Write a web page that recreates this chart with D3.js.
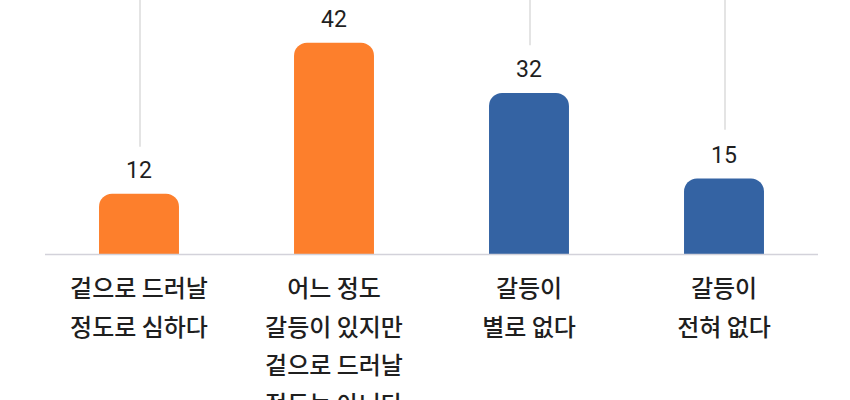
<!DOCTYPE html>
<html>
<head>
<meta charset="utf-8">
<script src="https://cdn.jsdelivr.net/npm/d3@7"></script>
<style>
  html, body { margin: 0; padding: 0; background: #fff; }
  svg { display: block; }
</style>
</head>
<body>
<div id="chart"></div>
<script>
// ---- data ----
const categories = [
  ["겉으로 드러날", "정도로 심하다"],
  ["어느 정도", "갈등이 있지만", "겉으로 드러날", "정도는 아니다"],
  ["갈등이", "별로 없다"],
  ["갈등이", "전혀 없다"]
];
const values = [12, 42, 32, 15];
const groups = ["conflict", "conflict", "none", "none"];
// leader lines coming from above the visible area (top end is cut off), in value units
const leaderEnds = [21.3, null, 41.5, 24.7];

// ---- layout ----
const W = 850, H = 400;
const baseY = 254;
const svg = d3.select("#chart").append("svg").attr("width", W).attr("height", H);

const x = d3.scaleBand()
  .domain(d3.range(categories.length))
  .range([41.5, 821.5])
  .paddingInner(0.59)
  .paddingOuter(0.295);

const y = d3.scaleLinear().domain([0, 50.5]).range([baseY, 0]);

const color = d3.scaleOrdinal().domain(["conflict", "none"]).range(["#fd7f2c", "#3463a3"]);

// leader lines
svg.append("g").selectAll("line")
  .data(leaderEnds.map((v, i) => ({v, i})).filter(d => d.v != null))
  .join("line")
  .attr("x1", d => x(d.i) + x.bandwidth() / 2 + 1)
  .attr("x2", d => x(d.i) + x.bandwidth() / 2 + 1)
  .attr("y1", 0)
  .attr("y2", d => y(d.v))
  .attr("stroke", "#d2d2d2")
  .attr("stroke-width", 1.2);

// bars with rounded top corners
function topRounded(x0, y0, w, h, r) {
  r = Math.min(r, w / 2, h);
  const p = d3.path();
  p.moveTo(x0, y0 + h);
  p.lineTo(x0, y0 + r);
  p.arcTo(x0, y0, x0 + r, y0, r);
  p.lineTo(x0 + w - r, y0);
  p.arcTo(x0 + w, y0, x0 + w, y0 + r, r);
  p.lineTo(x0 + w, y0 + h);
  p.closePath();
  return p.toString();
}

svg.append("g").selectAll("path")
  .data(values)
  .join("path")
  .attr("d", (v, i) => topRounded(x(i), y(v), x.bandwidth(), y(0) - y(v), 13))
  .attr("fill", (v, i) => color(groups[i]));

// baseline
svg.append("line")
  .attr("x1", 45).attr("x2", 818)
  .attr("y1", y(0) + 0.5).attr("y2", y(0) + 0.5)
  .attr("stroke", "#d3d2da")
  .attr("stroke-width", 1.5);

// value labels
svg.append("g").selectAll("text")
  .data(values)
  .join("text")
  .attr("x", (v, i) => x(i) + x.bandwidth() / 2)
  .attr("y", v => y(v) - 16)
  .attr("text-anchor", "middle")
  .attr("font-family", "Roboto, 'Noto Sans', sans-serif")
  .attr("font-size", 23)
  .attr("fill", "#1f1f1f")
  .text(v => v);

// category labels
const lab = svg.append("g").selectAll("text")
  .data(categories)
  .join("text")
  .attr("text-anchor", "middle")
  .attr("font-family", "'Noto Sans CJK KR', sans-serif")
  .attr("font-size", 24)
  .attr("font-weight", 500)
  .attr("fill", "#1f1f1f");

lab.selectAll("tspan")
  .data((lines, i) => lines.map((t, j) => ({t, j, i})))
  .join("tspan")
  .attr("x", d => x(d.i) + x.bandwidth() / 2)
  .attr("y", d => 297 + d.j * 38.5)
  .text(d => d.t);
</script>
</body>
</html>
